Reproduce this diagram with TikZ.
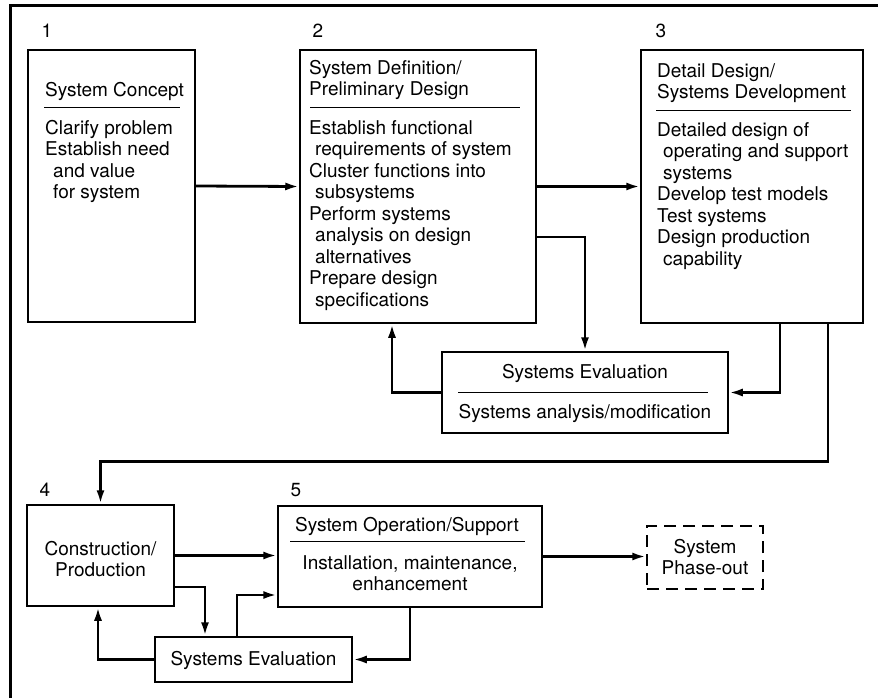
\documentclass[tikz,border=0pt]{standalone}
\usepackage{fontspec}
\setmainfont{TeX Gyre Heros}
\usetikzlibrary{arrows.meta}
\begin{document}
\begin{tikzpicture}[x=1pt,y=-1pt,
  box/.style={draw, line width=1.5pt, inner sep=0pt},
  phasebox/.style={box, dash pattern=on 12pt off 7pt},
  txt/.style={inner sep=0pt, font=\fontsize{19}{21.5}\selectfont},
  body/.style={txt, anchor=north west, align=left},
  cbody/.style={txt, anchor=north, align=center},
  num/.style={txt, anchor=base},
  rule/.style={line width=1pt},
  arr/.style={line width=2.8pt, -{Latex[length=14pt,width=8pt]}}]
\useasboundingbox (0,0) rectangle (878,698);

% page frame (left and top edges)
\draw[line width=3pt] (10,698) -- (10,6) -- (878,6);

% phase boxes
\node[box, minimum width=167pt, minimum height=272pt] (b1) at (111.5,186) {};
\node[box, minimum width=236pt, minimum height=273pt] (b2) at (418,186.5) {};
\node[box, minimum width=222pt, minimum height=273pt] (b3) at (752,186.5) {};
\node[box, minimum width=286pt, minimum height=81pt] (ev1) at (585,392.5) {};
\node[box, minimum width=147pt, minimum height=101pt] (b4) at (100.5,555.5) {};
\node[box, minimum width=264pt, minimum height=101pt] (b5) at (410,556.5) {};
\node[phasebox, minimum width=116pt, minimum height=63pt] (ph) at (705,557.5) {};
\node[box, minimum width=197pt, minimum height=45pt] (ev2) at (253.5,659.5) {};

% phase numbers
\node[num] (n1) at (47,38) {1};
\node[num] (n2) at (318,38) {2};
\node[num] (n3) at (661,38) {3};
\node[num] (n4) at (45,496) {4};
\node[num] (n5) at (296,496) {5};

% box 1
\node[body] (t1h) at (45,81) {\strut System Concept};
\draw[rule] (44,108) -- (180,108);
\node[body] (t1b) at (45,119) {\strut Clarify problem\\Establish need\\\hspace*{8pt}and value\\\hspace*{8pt}for system};

% box 2
\node[body] (t2h) at (309,59) {\strut System Definition/\\Preliminary Design};
\draw[rule] (310,108) -- (520,108);
\node[body] (t2b) at (309,119) {\strut Establish functional\\\hspace*{6pt}requirements of system\\Cluster functions into\\\hspace*{6pt}subsystems\\Perform systems\\\hspace*{6pt}analysis on design\\\hspace*{6pt}alternatives\\Prepare design\\\hspace*{6pt}specifications};

% box 3
\node[body] (t3h) at (657,62) {\strut Detail Design/\\Systems Development};
\draw[rule] (656,111) -- (851,111);
\node[body] (t3b) at (657,121) {\strut Detailed design of\\\hspace*{6pt}operating and support\\\hspace*{6pt}systems\\Develop test models\\Test systems\\Design production\\\hspace*{6pt}capability};

% upper evaluation box
\node[cbody] (tevh) at (585,363) {\strut Systems Evaluation};
\draw[rule] (458,392) -- (708,392);
\node[cbody] (tevb) at (585,403) {\strut Systems analysis/modification};

% box 4
\node[cbody] (t4) at (100.5,540) {\strut Construction/\\Production};

% box 5
\node[cbody] (t5h) at (407,516) {\strut System Operation/Support};
\draw[rule] (290,541) -- (525,541);
\node[cbody] (t5b) at (410,554) {\strut Installation, maintenance,\\enhancement};

% phase-out
\node[cbody] (tph) at (705,538) {\strut System\\Phase-out};

% lower evaluation box
\node[cbody] (tev2) at (253.5,650) {\strut Systems Evaluation};

% connectors, upper row
\draw[arr] (b1.east) -- (b2.west);
\draw[arr] (b2.east) -- (b3.west);
\draw[arr] ([yshift=-50.5pt]b2.east) -| (ev1.north);
\draw[arr] ([xshift=28pt]b3.south) |- (ev1.east);
\draw[arr] (ev1.west) -| ([xshift=-26pt]b2.south);
\draw[arr] ([xshift=76pt]b3.south) -- ++(0,138) -| (b4.north);

% connectors, lower row
\draw[arr] (b4.east) -- (b4.east -| b5.west);
\draw[arr] ([yshift=-31.5pt]b4.east) -| ([xshift=-48.5pt]ev2.north);
\draw[arr] ([xshift=-16.5pt]ev2.north) |- ([yshift=-38.5pt]b5.west);
\draw[arr] (b5.south) |- (ev2.east);
\draw[arr] (ev2.west) -| ([xshift=-2.5pt]b4.south);
\draw[arr] (b5.east) -- (b5.east -| ph.west);
\end{tikzpicture}
\end{document}
